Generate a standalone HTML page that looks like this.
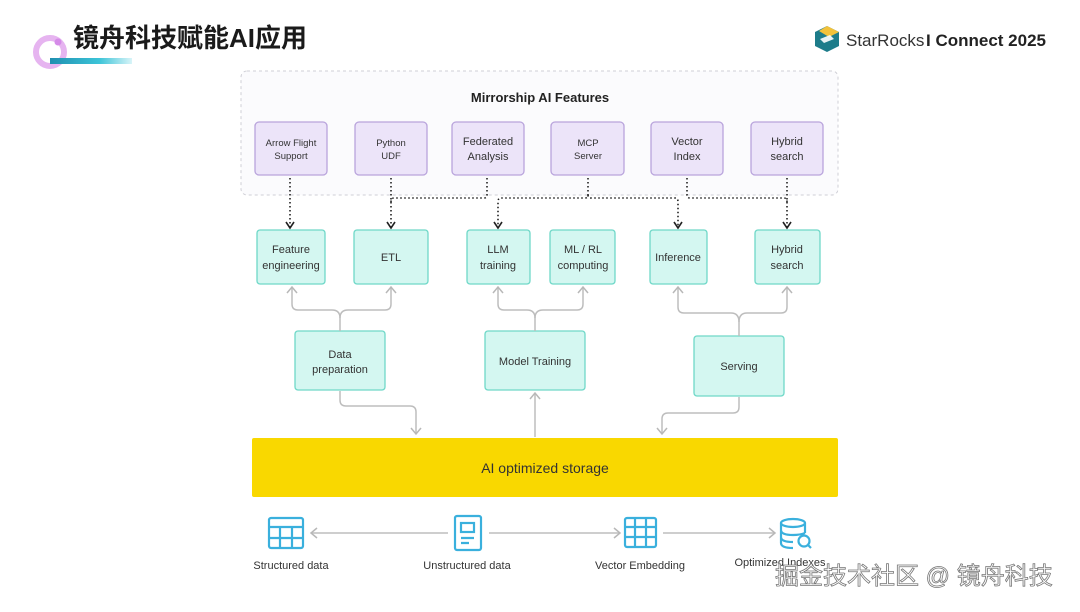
<!DOCTYPE html>
<html><head><meta charset="utf-8"><style>
body{margin:0;width:1080px;height:607px;background:#fff;overflow:hidden;font-family:"Liberation Sans","Noto Sans CJK SC",sans-serif}
svg text{font-family:"Liberation Sans","Noto Sans CJK SC",sans-serif}
</style></head><body>
<svg width="1080" height="607" viewBox="0 0 1080 607" xmlns="http://www.w3.org/2000/svg">
<defs>
<linearGradient id="bar" x1="0" x2="1"><stop offset="0" stop-color="#1f8fb0"/><stop offset="0.6" stop-color="#3cc4d8"/><stop offset="1" stop-color="#d8f4f8"/></linearGradient>
<marker id="ab" markerWidth="10" markerHeight="10" refX="8" refY="5" orient="auto" markerUnits="userSpaceOnUse"><path d="M2,1 L8,5 L2,9" fill="none" stroke="#222" stroke-width="1.6"/></marker>
<marker id="ag" markerWidth="12" markerHeight="12" refX="10" refY="6" orient="auto" markerUnits="userSpaceOnUse"><path d="M4,1 L10,6 L4,11" fill="none" stroke="#b8b8b8" stroke-width="1.5"/></marker>
</defs>
<!-- header -->
<circle cx="50" cy="52" r="14" fill="none" stroke="#e6b4f0" stroke-width="6"/>
<circle cx="58" cy="42" r="3.5" fill="#d58be8"/>
<rect x="50" y="58" width="82" height="6" fill="url(#bar)"/>
<text x="73" y="47" font-size="26" font-weight="bold" fill="#1a1a1a">镜舟科技赋能AI应用</text>
<g transform="translate(815,26)">
<path d="M12,0 L24,6 L24,20 L12,26 L0,20 L0,6Z" fill="#1d7c8a"/>
<path d="M12,0 L24,6 L14,11 L4,5Z" fill="#f3c23a"/>
<path d="M5,13 L15,9 L19,13 L9,17Z" fill="#fff" opacity="0.9"/>
</g>
<text x="846" y="46" font-size="17" fill="#333">StarRocks</text>
<text x="926" y="46" font-size="17" font-weight="bold" fill="#222">I Connect 2025</text>

<!-- dashed feature box -->
<rect x="241" y="71" width="597" height="124" rx="6" fill="#fbfbfd" stroke="#cfcfd6" stroke-dasharray="3,3"/>
<text x="540" y="102" font-size="13" font-weight="bold" text-anchor="middle" fill="#222">Mirrorship AI Features</text>
<g fill="#ece4f9" stroke="#b9a4dc" stroke-width="1.3">
<rect x="255" y="122" width="72" height="53" rx="4"/>
<rect x="355" y="122" width="72" height="53" rx="4"/>
<rect x="452" y="122" width="72" height="53" rx="4"/>
<rect x="551" y="122" width="73" height="53" rx="4"/>
<rect x="651" y="122" width="72" height="53" rx="4"/>
<rect x="751" y="122" width="72" height="53" rx="4"/>
</g>
<g font-size="9.5" fill="#333" text-anchor="middle">
<text x="291" y="146">Arrow Flight</text><text x="291" y="159">Support</text>
<text x="391" y="146">Python</text><text x="391" y="159">UDF</text>
<text x="588" y="146">MCP</text><text x="588" y="159">Server</text>
</g>
<g font-size="11" fill="#333" text-anchor="middle">
<text x="488" y="145">Federated</text><text x="488" y="160">Analysis</text>
<text x="687" y="145">Vector</text><text x="687" y="160">Index</text>
<text x="787" y="145">Hybrid</text><text x="787" y="160">search</text>
</g>
<!-- dotted connectors -->
<g fill="none" stroke="#222" stroke-width="1.6" stroke-dasharray="1.5,2.5">
<path d="M290,178 V228" marker-end="url(#ab)"/>
<path d="M391,178 V228" marker-end="url(#ab)"/>
<path d="M487,178 V195 Q487,198 484,198 H394 Q391,198 391,202"/>
<path d="M588,178 V195 Q588,198 585,198 H501 Q498,198 498,202 V228" marker-end="url(#ab)"/>
<path d="M588,195 Q588,198 591,198 H675 Q678,198 678,202 V228" marker-end="url(#ab)"/>
<path d="M687,178 V195 Q687,198 690,198 H784 Q787,198 787,202"/>
<path d="M787,178 V228" marker-end="url(#ab)"/>
</g>
<!-- teal boxes -->
<g fill="#d4f7f1" stroke="#6fd8c8" stroke-width="1.3">
<rect x="257" y="230" width="68" height="54" rx="3"/>
<rect x="354" y="230" width="74" height="54" rx="3"/>
<rect x="467" y="230" width="63" height="54" rx="3"/>
<rect x="550" y="230" width="65" height="54" rx="3"/>
<rect x="650" y="230" width="57" height="54" rx="3"/>
<rect x="755" y="230" width="65" height="54" rx="3"/>
<rect x="295" y="331" width="90" height="59" rx="3"/>
<rect x="485" y="331" width="100" height="59" rx="3"/>
<rect x="694" y="336" width="90" height="60" rx="3"/>
</g>
<g font-size="11" fill="#333" text-anchor="middle">
<text x="291" y="253">Feature</text><text x="291" y="269">engineering</text>
<text x="391" y="261">ETL</text>
<text x="498" y="253">LLM</text><text x="498" y="269">training</text>
<text x="583" y="253">ML / RL</text><text x="583" y="269">computing</text>
<text x="678" y="261">Inference</text>
<text x="787" y="253">Hybrid</text><text x="787" y="269">search</text>
<text x="340" y="358">Data</text><text x="340" y="373">preparation</text>
<text x="535" y="365">Model Training</text>
<text x="739" y="370">Serving</text>
</g>
<!-- gray connectors -->
<g fill="none" stroke="#bdbdbd" stroke-width="1.5">
<path d="M340,331 V318 Q340,310 332,310 H298 Q292,310 292,304 V287" marker-end="url(#ag)"/>
<path d="M340,318 Q340,310 348,310 H385 Q391,310 391,304 V287" marker-end="url(#ag)"/>
<path d="M535,331 V318 Q535,310 527,310 H504 Q498,310 498,304 V287" marker-end="url(#ag)"/>
<path d="M535,318 Q535,310 543,310 H577 Q583,310 583,304 V287" marker-end="url(#ag)"/>
<path d="M739,336 V322 Q739,313 731,313 H684 Q678,313 678,307 V287" marker-end="url(#ag)"/>
<path d="M739,322 Q739,313 747,313 H781 Q787,313 787,307 V287" marker-end="url(#ag)"/>
<path d="M340,391 V400 Q340,406 346,406 H410 Q416,406 416,412 V434" marker-end="url(#ag)"/>
<path d="M535,437 V393" marker-end="url(#ag)"/>
<path d="M739,397 V407 Q739,413 733,413 H668 Q662,413 662,419 V434" marker-end="url(#ag)"/>
<path d="M448,533 H311" marker-end="url(#ag)"/>
<path d="M489,533 H620" marker-end="url(#ag)"/>
<path d="M663,533 H775" marker-end="url(#ag)"/>
</g>
<!-- storage -->
<rect x="252" y="438" width="586" height="59" rx="2" fill="#f9d800"/>
<text x="545" y="473" font-size="14" fill="#333" text-anchor="middle">AI optimized storage</text>
<!-- bottom icons -->
<g fill="none" stroke="#3ab0dd" stroke-width="2.2">
<rect x="269" y="518" width="34" height="30" rx="2"/>
<path d="M269,527 H303 M269,538 H303 M280,527 V548 M292,527 V548"/>
<rect x="455" y="516" width="26" height="34" rx="2"/>
<rect x="461" y="523" width="13" height="9"/>
<path d="M461,538 H474 M461,543 H469"/>
<rect x="625" y="518" width="31" height="29" rx="2"/>
<path d="M625,527 H656 M625,537 H656 M635,518 V547 M646,518 V547"/>
<ellipse cx="793" cy="523" rx="12" ry="4"/>
<path d="M781,523 V543 Q781,548 793,548 M805,523 V533 M781,530 Q781,535 793,535 Q800,535 805,533 M781,537 Q781,542 793,542"/>
<circle cx="804" cy="541" r="5.5"/>
<path d="M808,545 L811,548"/>
</g>
<g font-size="11" fill="#333" text-anchor="middle">
<text x="291" y="569">Structured data</text>
<text x="467" y="569">Unstructured data</text>
<text x="640" y="569">Vector Embedding</text>
<text x="780" y="566">Optimized Indexes</text>
</g>
<text x="775" y="584" font-size="24" fill="#fff" stroke="#777" stroke-width="0.8">掘金技术社区 @ 镜舟科技</text>
</svg>
</body></html>
